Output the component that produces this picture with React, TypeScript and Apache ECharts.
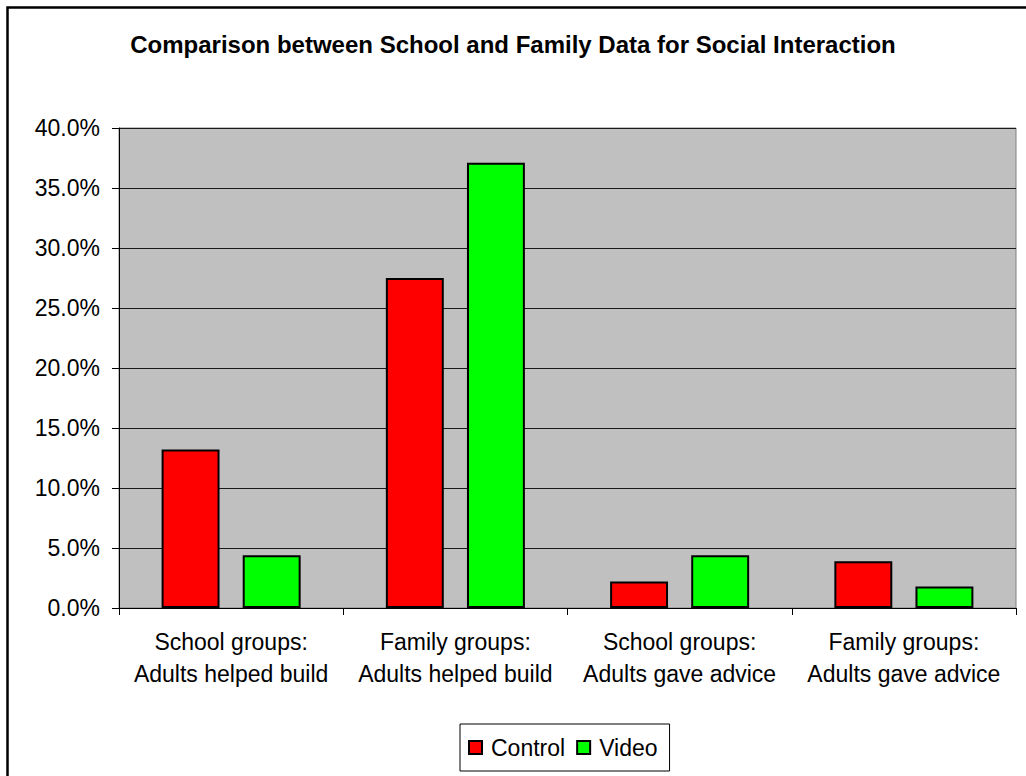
import React, { useEffect, useRef } from "react";
import * as echarts from "echarts";

const categories = [
  "School groups:\nAdults helped build",
  "Family groups:\nAdults helped build",
  "School groups:\nAdults gave advice",
  "Family groups:\nAdults gave advice",
];
const controlValues = [13.2, 27.5, 2.2, 3.9];
const videoValues = [4.4, 37.1, 4.4, 1.8];
const seriesNames = ["Control", "Video"];
const chartTitle = "Comparison between School and Family Data for Social Interaction";

const FONT = "'Liberation Sans', Arial, Helvetica, sans-serif";

export default function App() {
  const ref = useRef<HTMLDivElement>(null);

  useEffect(() => {
    if (!ref.current) return;
    const chart = echarts.init(ref.current, undefined, { renderer: "svg" });
    chart.setOption({
      animation: false,
      backgroundColor: "#ffffff",
      textStyle: { fontFamily: FONT, color: "#000" },
      title: {
        text: chartTitle,
        left: "center",
        top: 27,
        textStyle: { fontFamily: FONT, fontSize: 24, fontWeight: "bold", color: "#000" },
      },
      legend: {
        data: seriesNames,
        left: 460,
        top: 724,
        orient: "horizontal",
        icon: "rect",
        itemWidth: 13,
        itemHeight: 13,
        itemGap: 11,
        padding: [12, 12, 12, 8],
        borderColor: "#000",
        borderWidth: 1,
        backgroundColor: "#fff",
        textStyle: { fontFamily: FONT, fontSize: 23, color: "#000", padding: [0, 0, 0, 4] },
      },
      grid: {
        left: 119,
        top: 128,
        right: 10,
        bottom: 168,
        show: true,
        backgroundColor: "#c0c0c0",
        borderColor: "#808080",
        borderWidth: 1,
      },
      xAxis: {
        type: "category",
        data: categories,
        axisLine: { lineStyle: { color: "#000", width: 1 } },
        axisTick: { show: true, length: 7, lineStyle: { color: "#000" } },
        axisLabel: {
          fontFamily: FONT,
          fontSize: 23,
          color: "#000",
          lineHeight: 32,
          margin: 18,
          interval: 0,
        },
      },
      yAxis: {
        type: "value",
        min: 0,
        max: 40,
        interval: 5,
        axisLine: { show: true, lineStyle: { color: "#000", width: 1 } },
        axisTick: { show: true, length: 7, lineStyle: { color: "#000" } },
        splitLine: { show: true, lineStyle: { color: "#1a1a1a", width: 1 } },
        axisLabel: {
          fontFamily: FONT,
          fontSize: 23,
          color: "#000",
          margin: 19,
          formatter: (v: number) => `${v.toFixed(1)}%`,
        },
      },
      series: [
        {
          name: seriesNames[0],
          type: "bar",
          data: controlValues,
          barGap: "40%",
          barCategoryGap: "38%",
          itemStyle: { color: "#ff0000", borderColor: "#000", borderWidth: 2 },
        },
        {
          name: seriesNames[1],
          type: "bar",
          data: videoValues,
          barGap: "40%",
          barCategoryGap: "38%",
          itemStyle: { color: "#00ff00", borderColor: "#000", borderWidth: 2 },
        },
      ],
      graphic: [
        {
          type: "rect",
          silent: true,
          shape: { x: 7.5, y: 7.5, width: 1200, height: 1000 },
          style: { fill: "none", stroke: "#000", lineWidth: 2.5 },
          z: 100,
        },
      ],
    });
    return () => chart.dispose();
  }, []);

  return (
    <div style={{ position: "fixed", left: 0, top: 0, width: 1026, height: 776, overflow: "hidden", background: "#fff" }}>
      <div ref={ref} style={{ width: 1026, height: 776 }} />
    </div>
  );
}
